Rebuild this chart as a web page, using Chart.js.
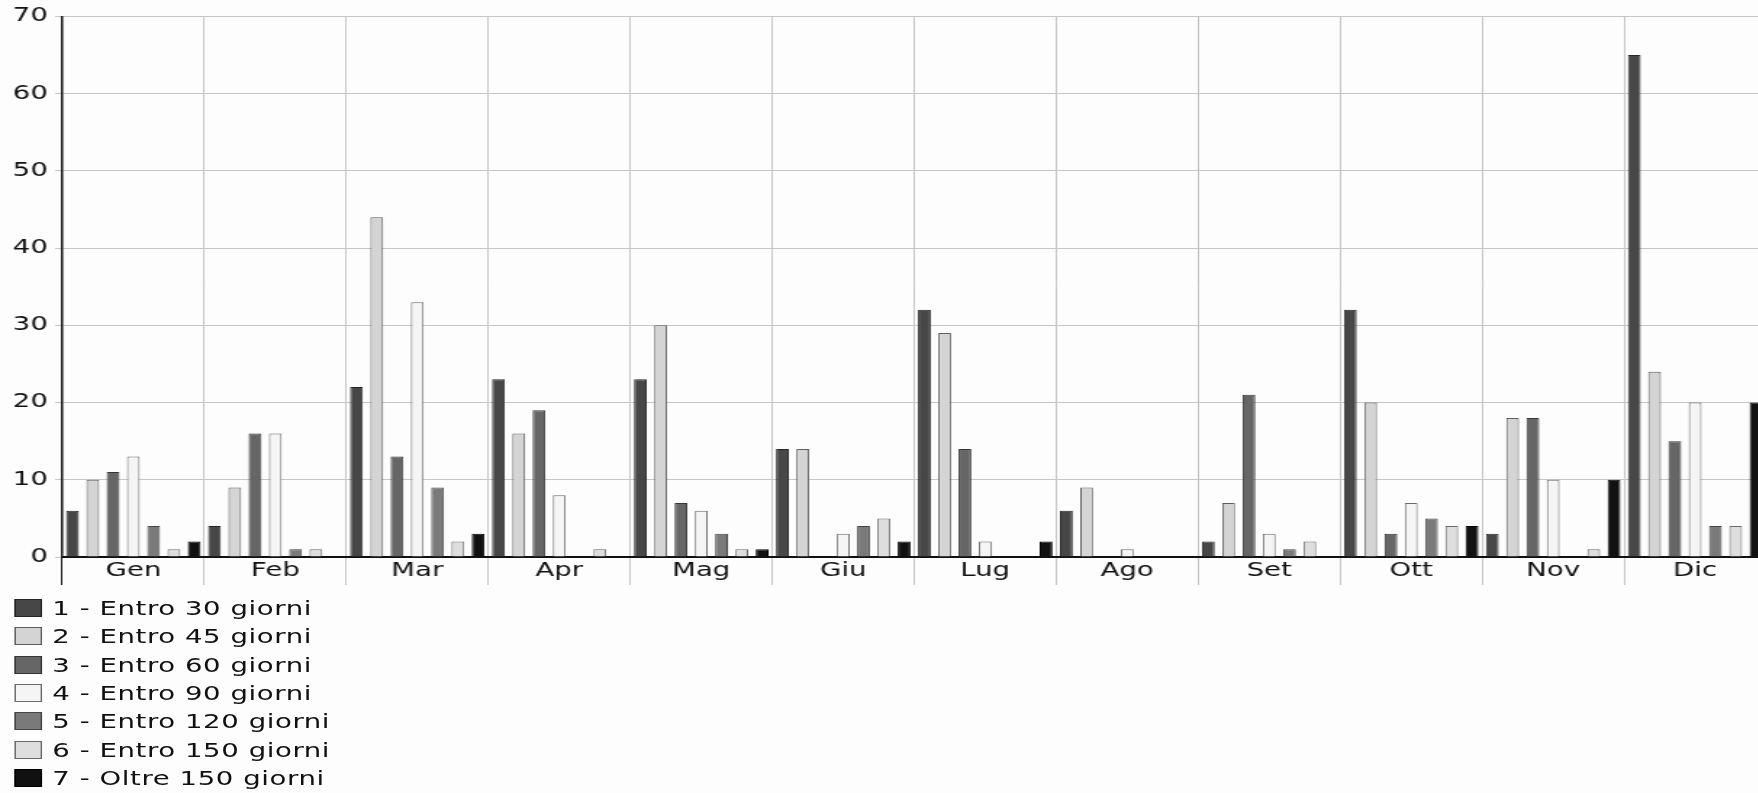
<!DOCTYPE html>
<html lang="it">

<head>
    <meta charset="UTF-8">
    <title>Pagamenti per mese</title>
    <script src="https://cdn.jsdelivr.net/npm/chart.js"></script>
    <style>
        body {
            margin: 0;
            overflow: hidden;
            background-color: #fdfdfd;
            font-family: "DejaVu Sans", Verdana, sans-serif;
        }

        /* the original picture is stretched sideways, so we stretch too */
        #wrap {
            width: 1218px;
            transform: scaleX(1.45);
            transform-origin: 0 0;
        }

        #legend {
            margin-top: 4px;
            padding-left: 10px;
        }

        .item {
            height: 28.3px;
            display: flex;
            align-items: center;
            font-size: 19px;
            letter-spacing: 0.4px;
            color: #111;
        }

        .box {
            width: 19px;
            height: 18px;
            margin-right: 7px;
            box-sizing: border-box;
            border: 1px solid #555;
        }
    </style>
</head>

<body>
    <div id="wrap">
        <canvas id="grafico" width="1218" height="590"></canvas>
        <div id="legend"></div>
    </div>

    <script>
        const mesi = ['Gen', 'Feb', 'Mar', 'Apr', 'Mag', 'Giu', 'Lug', 'Ago', 'Set', 'Ott', 'Nov', 'Dic'];

        const entro30 = [6, 4, 22, 23, 23, 14, 32, 6, 2, 32, 3, 65];
        const entro45 = [10, 9, 44, 16, 30, 14, 29, 9, 7, 20, 18, 24];
        const entro60 = [11, 16, 13, 19, 7, 0, 14, 0, 21, 3, 18, 15];
        const entro90 = [13, 16, 33, 8, 6, 3, 2, 1, 3, 7, 10, 20];
        const entro120 = [4, 1, 9, 0, 3, 4, 0, 0, 1, 5, 0, 4];
        const entro150 = [1, 1, 2, 1, 1, 5, 0, 0, 2, 4, 1, 4];
        const oltre150 = [2, 0, 3, 0, 1, 2, 2, 0, 0, 4, 10, 20];

        const valoriAsseY = [0, 10, 20, 30, 40, 50, 60, 70];

        const serie = [
            { label: '1 - Entro 30 giorni', data: entro30, fill: '#474747', bordo: '#262626' },
            { label: '2 - Entro 45 giorni', data: entro45, fill: '#d4d4d4', bordo: '#5e5e5e' },
            { label: '3 - Entro 60 giorni', data: entro60, fill: '#666666', bordo: '#363636' },
            { label: '4 - Entro 90 giorni', data: entro90, fill: '#f5f5f5', bordo: '#6a6a6a' },
            { label: '5 - Entro 120 giorni', data: entro120, fill: '#7a7a7a', bordo: '#444444' },
            { label: '6 - Entro 150 giorni', data: entro150, fill: '#dedede', bordo: '#6a6a6a' },
            { label: '7 - Oltre 150 giorni', data: oltre150, fill: '#111111', bordo: '#000000' }
        ];

        const fontTick = { family: '"DejaVu Sans", Verdana, sans-serif', size: 19 };

        function renderChart() {
            const ctx = document.getElementById('grafico').getContext('2d');

            const chart = new Chart(ctx, {
                type: 'bar',
                data: {
                    labels: mesi,
                    datasets: serie.map(s => ({
                        label: s.label,
                        data: s.data,
                        backgroundColor: s.fill,
                        borderColor: s.bordo,
                        borderWidth: 1,
                        categoryPercentage: 1.0,
                        barPercentage: 0.63
                    }))
                },
                options: {
                    responsive: false,
                    animation: false,
                    layout: { padding: { top: 16, right: 0, left: 0, bottom: 0 } },
                    plugins: {
                        legend: { display: false },
                        tooltip: { enabled: false }
                    },
                    scales: {
                        x: {
                            grid: {
                                offset: true,
                                // la prima linea fa da prolungamento dell'asse y
                                color: c => c.index === 0 ? '#111' : '#c6c6c6',
                                lineWidth: 1,
                                tickLength: 28
                            },
                            border: { color: '#111', width: 2 },
                            ticks: { font: fontTick, color: '#111', padding: -25 },
                            afterFit: function (scale) { scale.height = 33; }
                        },
                        y: {
                            min: 0,
                            max: 70,
                            afterBuildTicks: function (scale) {
                                scale.ticks = valoriAsseY.map(v => ({ value: v }));
                            },
                            grid: { color: '#c6c6c6', lineWidth: 1, tickLength: 5 },
                            border: { color: '#111', width: 1.5 },
                            ticks: { font: fontTick, color: '#111', padding: 5 },
                            afterFit: function (scale) { scale.width = 43; }
                        }
                    }
                }
            });

            // legenda verticale come nell'originale
            const legend = document.getElementById('legend');
            chart.data.datasets.forEach(ds => {
                const riga = document.createElement('div');
                riga.className = 'item';
                const box = document.createElement('span');
                box.className = 'box';
                box.style.backgroundColor = ds.backgroundColor;
                box.style.borderColor = ds.borderColor;
                riga.appendChild(box);
                riga.appendChild(document.createTextNode(ds.label));
                legend.appendChild(riga);
            });
        }

        document.addEventListener('DOMContentLoaded', renderChart);
    </script>
</body>

</html>
